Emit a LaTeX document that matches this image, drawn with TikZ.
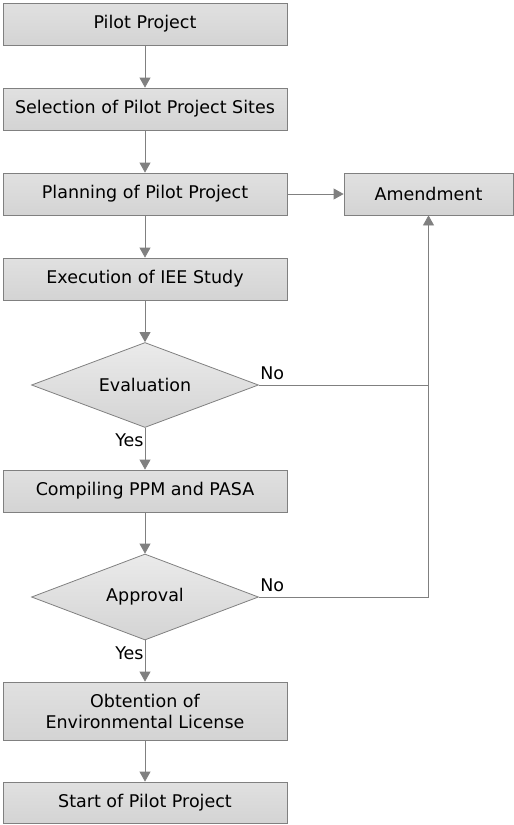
\documentclass[tikz,border=0pt]{standalone}
\usepackage{fontspec}
\setmainfont{DejaVu Sans}
\usepackage{tikz}
\usetikzlibrary{shapes.geometric,arrows.meta}
\tikzset{blk/.style={rectangle,draw=black!50,line width=0.8pt,top color=black!12,middle color=white,bottom color=black!17,minimum width=284pt,minimum height=42pt,inner sep=0pt,align=center,font=\fontsize{17.5}{21}\selectfont}}
\tikzset{dec/.style={diamond,draw=black!50,line width=0.8pt,top color=black!8,middle color=white,bottom color=black!17,minimum width=227pt,minimum height=85pt,aspect=2.6,inner sep=0pt,font=\fontsize{17.5}{21}\selectfont}}
\tikzset{lbl/.style={font=\fontsize{17.5}{21}\selectfont,inner sep=1pt}}

\begin{document}
\begin{tikzpicture}[x=1pt,y=-1pt,>={Triangle[width=11pt,length=10pt]},line width=0.8pt]
        \useasboundingbox (0,0) rectangle (514,825);
        \node[blk] (pilot) at (145,24) {Pilot Project};
        \node[blk] (sel) at (145,109) {Selection of Pilot Project Sites};
        \node[blk] (plan) at (145,194) {Planning of Pilot Project};
        \node[blk,minimum width=169pt] (amend) at (428.5,194) {Amendment};
        \node[blk] (exec) at (145,279) {Execution of IEE Study};
        \node[dec] (eval) at (145,385) {Evaluation};
        \node[blk] (comp) at (145,491) {Compiling PPM and PASA};
        \node[dec,minimum height=86pt] (appr) at (145,597) {Approval};
        \node[blk,minimum height=58pt] (obt) at (145,711) {Obtention of\\Environmental License};
        \node[blk,minimum height=41pt] (start) at (145,802.5) {Start of Pilot Project};

        \draw [->,black!50] (pilot) -- (sel);
        \draw [->,black!50] (sel) -- (plan);
        \draw [->,black!50] (plan) -- (exec);
        \draw [->,black!50] (plan) -- (amend);
        \draw [->,black!50] (exec) -- (eval);
        \draw [->,black!50] (eval) -- node[lbl,left,text=black,pos=0.3]{Yes} (comp);
        \draw [->,black!50] (comp) -- (appr);
        \draw [->,black!50] (appr) -- node[lbl,left,text=black,pos=0.3]{Yes} (obt);
        \draw [->,black!50] (obt) -- (start);
        \draw [black!50] (eval.east) -- (eval.east -| amend.south);
        \draw [->,black!50] (appr.east) -- (appr.east -| amend.south) -- (amend.south);
        \node[lbl,above right,yshift=4pt] (evalno) at (eval.east) {No};
        \node[lbl,above right,yshift=4pt] (apprno) at (appr.east) {No};
    \end{tikzpicture}
\end{document}
